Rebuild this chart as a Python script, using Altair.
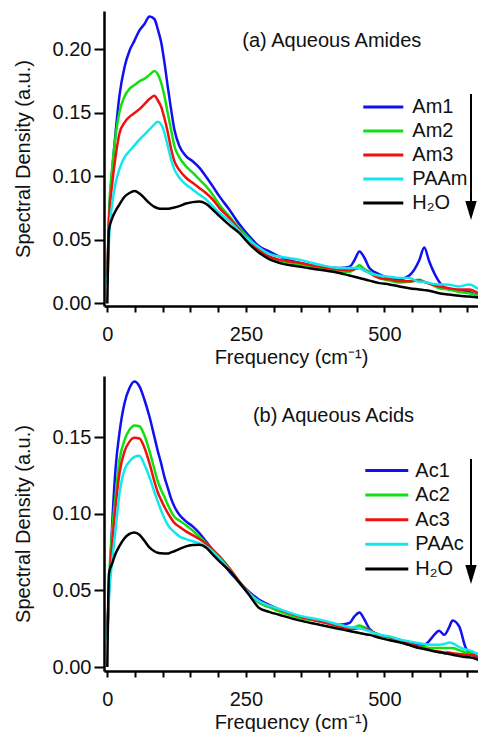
import altair as alt
import pandas as pd

# ---------------- data ----------------
freq_a = [0, 3, 9, 15, 22, 31, 40, 49, 58, 67, 76, 85, 91, 97, 103, 109, 115, 121, 130, 142,
          154, 166, 178, 190, 202, 220, 238, 256, 274, 292, 310, 346, 383, 419, 437, 446, 455,
          464, 473, 491, 509, 527, 545, 563, 572, 581, 599, 617, 635, 653, 671, 686]

am1 = [0.020, 0.065, 0.105, 0.135, 0.164, 0.186, 0.199, 0.207, 0.215, 0.220,
       0.226, 0.224, 0.216, 0.206, 0.190, 0.171, 0.153, 0.137, 0.124, 0.116,
       0.112, 0.107, 0.100, 0.0924, 0.0845, 0.074, 0.0625, 0.053, 0.045, 0.041,
       0.037, 0.032, 0.029, 0.028, 0.029, 0.034, 0.041, 0.036, 0.028, 0.023,
       0.020, 0.019, 0.022, 0.034, 0.044, 0.033, 0.017, 0.011, 0.0105, 0.009,
       0.006, 0.003]
am2 = [0.020, 0.070, 0.108, 0.132, 0.151, 0.163, 0.169, 0.172, 0.175, 0.177,
       0.180, 0.183, 0.1806, 0.174, 0.1635, 0.150, 0.137, 0.124, 0.115, 0.108,
       0.103, 0.0977, 0.0924, 0.0858, 0.078, 0.0687, 0.0595, 0.051, 0.042, 0.037,
       0.033, 0.0305, 0.028, 0.025, 0.025, 0.027, 0.030, 0.027, 0.025, 0.020,
       0.018, 0.0165, 0.017, 0.0187, 0.017, 0.016, 0.012, 0.011, 0.009, 0.008,
       0.006, 0.003]
am3 = [0.020, 0.065, 0.095, 0.116, 0.134, 0.1424, 0.147, 0.150, 0.153, 0.157,
       0.161, 0.1635, 0.160, 0.155, 0.146, 0.135, 0.122, 0.112, 0.105, 0.099,
       0.095, 0.091, 0.087, 0.082, 0.0753, 0.0674, 0.058, 0.050, 0.042, 0.037,
       0.0345, 0.032, 0.029, 0.0266, 0.026, 0.027, 0.028, 0.026, 0.024, 0.020,
       0.019, 0.0174, 0.0175, 0.018, 0.017, 0.0155, 0.0134, 0.012, 0.011, 0.011,
       0.008, 0.0055]
paam = [0.015, 0.050, 0.079, 0.095, 0.106, 0.115, 0.120, 0.1245, 0.129, 0.133,
        0.137, 0.141, 0.143, 0.141, 0.1345, 0.124, 0.1135, 0.1056, 0.099, 0.0937,
        0.0898, 0.0858, 0.082, 0.0766, 0.0714, 0.065, 0.057, 0.050, 0.044, 0.039,
        0.037, 0.0345, 0.0305, 0.028, 0.028, 0.028, 0.028, 0.026, 0.024, 0.022,
        0.021, 0.020, 0.020, 0.017, 0.017, 0.016, 0.015, 0.0147, 0.0134, 0.015,
        0.011, 0.0055]
h2o_a = [0.000, 0.058, 0.0674, 0.073, 0.078, 0.084, 0.087, 0.0885, 0.0866, 0.083,
         0.079, 0.076, 0.075, 0.0745, 0.0745, 0.0745, 0.075, 0.0755, 0.0766, 0.0787,
         0.0798, 0.0803, 0.0785, 0.074, 0.069, 0.0619, 0.0556, 0.047, 0.040, 0.035,
         0.032, 0.029, 0.0266, 0.024, 0.022, 0.021, 0.020, 0.019, 0.018, 0.016,
         0.015, 0.0134, 0.012, 0.011, 0.0105, 0.010, 0.008, 0.007, 0.006, 0.0055,
         0.0045, 0.003]

freq_b = [0, 3, 9, 15, 22, 31, 40, 49, 58, 67, 76, 85, 91, 97, 103, 109, 115, 121, 130, 142,
          154, 166, 178, 190, 202, 220, 238, 256, 274, 292, 310, 346, 383, 419, 437, 446, 455,
          464, 473, 491, 509, 527, 545, 563, 572, 581, 590, 599, 608, 617, 623, 635, 647, 659,
          671, 686]

ac1 = [0.022, 0.050, 0.095, 0.130, 0.153, 0.172, 0.182, 0.1862, 0.183, 0.1743,
       0.1634, 0.150, 0.141, 0.133, 0.124, 0.117, 0.110, 0.1047, 0.0993, 0.095,
       0.0917, 0.0874, 0.082, 0.0765, 0.071, 0.0624, 0.0553, 0.049, 0.0439, 0.0406,
       0.0374, 0.033, 0.0298, 0.0276, 0.0287, 0.033, 0.0356, 0.031, 0.025, 0.021,
       0.0195, 0.0178, 0.016, 0.0146, 0.0146, 0.017, 0.021, 0.0237, 0.021, 0.026,
       0.0304, 0.0265, 0.0124, 0.008, 0.006, 0.0026]
ac2 = [0.020, 0.055, 0.090, 0.112, 0.135, 0.148, 0.1547, 0.1575, 0.157, 0.151,
       0.141, 0.129, 0.121, 0.1156, 0.111, 0.106, 0.1015, 0.098, 0.0955, 0.0925,
       0.089, 0.085, 0.081, 0.0765, 0.0725, 0.0645, 0.0558, 0.048, 0.0417, 0.039,
       0.0363, 0.032, 0.0298, 0.0265, 0.0254, 0.026, 0.027, 0.026, 0.024, 0.021,
       0.019, 0.017, 0.0146, 0.0135, 0.013, 0.0124, 0.0124, 0.0124, 0.0124, 0.0124,
       0.0124, 0.011, 0.0095, 0.009, 0.007, 0.0048]
ac3 = [0.020, 0.050, 0.082, 0.105, 0.1265, 0.1406, 0.147, 0.1495, 0.149, 0.143,
       0.133, 0.121, 0.114, 0.109, 0.1045, 0.1005, 0.097, 0.094, 0.0915, 0.0885,
       0.086, 0.0835, 0.0805, 0.0765, 0.072, 0.0645, 0.0558, 0.048, 0.0428, 0.040,
       0.0374, 0.033, 0.0298, 0.0265, 0.0248, 0.025, 0.0254, 0.025, 0.024, 0.0205,
       0.0196, 0.0175, 0.0152, 0.013, 0.012, 0.0112, 0.0105, 0.0102, 0.0095, 0.0095,
       0.009, 0.0085, 0.008, 0.008, 0.006, 0.0037]
paac = [0.018, 0.045, 0.070, 0.090, 0.1134, 0.1286, 0.134, 0.137, 0.1378, 0.132,
        0.124, 0.114, 0.108, 0.102, 0.097, 0.0928, 0.090, 0.088, 0.0852, 0.0834,
        0.082, 0.0808, 0.0787, 0.0754, 0.071, 0.0635, 0.0548, 0.048, 0.0428, 0.040,
        0.0378, 0.0335, 0.0309, 0.0276, 0.026, 0.0257, 0.0254, 0.0245, 0.0233, 0.021,
        0.020, 0.018, 0.0167, 0.0155, 0.015, 0.0146, 0.0146, 0.0146, 0.015, 0.016,
        0.0155, 0.013, 0.0115, 0.0102, 0.008, 0.0059]
h2o_b = [0.000, 0.061, 0.0678, 0.074, 0.079, 0.084, 0.0868, 0.0878, 0.0863, 0.0823,
         0.078, 0.0755, 0.0745, 0.0742, 0.074, 0.074, 0.0748, 0.0755, 0.0769, 0.0787,
         0.0795, 0.0797, 0.078, 0.0735, 0.069, 0.063, 0.0552, 0.047, 0.0385, 0.036,
         0.0341, 0.0304, 0.0276, 0.0248, 0.0235, 0.0228, 0.0222, 0.0215, 0.021, 0.019,
         0.0175, 0.0161, 0.0143, 0.0124, 0.0118, 0.011, 0.0102, 0.0096, 0.009, 0.0085,
         0.008, 0.0072, 0.0065, 0.006, 0.0045, 0.003]

names_a = ["Am1", "Am2", "Am3", "PAAm", "H\u2082O"]
names_b = ["Ac1", "Ac2", "Ac3", "PAAc", "H\u2082O"]
colors = ["#1010F0", "#10E010", "#F01010", "#10E8EE", "#000000"]
x_ticks = list(range(0, 651, 50))
y_ticks_a = [0.0, 0.05, 0.10, 0.15, 0.20]
y_ticks_b = [0.0, 0.05, 0.10, 0.15]

FONT = "Liberation Sans"
TXT = "#111111"
W, H = 374, 295
X_DOM = [-6, 669]


def panel(freq, series, names, y_dom, y_ticks, label, label_xy, leg_y0, leg_dy, leg_x, arrow):
    rows = []
    for name, vals in zip(names, series):
        for f, v in zip(freq, vals):
            rows.append({"freq": f, "value": v, "series": name})
    df = pd.DataFrame(rows)

    lines = alt.Chart(df).mark_line(strokeWidth=2.5, interpolate="monotone", clip=True).encode(
        x=alt.X("freq:Q",
                scale=alt.Scale(domain=X_DOM, nice=False, zero=False),
                axis=alt.Axis(values=x_ticks, format="d",
                              labelExpr="datum.value % 250 === 0 ? datum.label : ''",
                              tickSize=6, tickWidth=2, tickColor="black",
                              domainColor="black", domainWidth=2.5,
                              labelFont=FONT, labelFontSize=20, labelColor=TXT,
                              labelPadding=12, labelFlush=False, labelOverlap=False,
                              grid=False, title="Frequency (cm\u207b\u00b9)",
                              titleFont=FONT, titleFontSize=20, titleFontWeight="normal",
                              titleColor=TXT, titlePadding=3)),
        y=alt.Y("value:Q",
                scale=alt.Scale(domain=y_dom, nice=False, zero=False),
                axis=alt.Axis(values=y_ticks, format=".2f",
                              tickSize=10, tickWidth=2, tickColor="black",
                              domainColor="black", domainWidth=2.5,
                              labelFont=FONT, labelFontSize=20, labelColor=TXT,
                              labelPadding=3, labelFlush=False, labelOverlap=False,
                              grid=False, title="Spectral Density (a.u.)",
                              titleFont=FONT, titleFontSize=20, titleFontWeight="normal",
                              titleColor=TXT, titlePadding=19)),
        color=alt.Color("series:N", scale=alt.Scale(domain=names, range=colors), legend=None),
    )

    dummy = pd.DataFrame({"d": [0]})
    layers = [lines]
    # panel label
    layers.append(alt.Chart(dummy).mark_text(text=label, align="center", baseline="alphabetic",
                                             font=FONT, fontSize=20, color=TXT)
                  .encode(x=alt.value(label_xy[0]), y=alt.value(label_xy[1])))
    # legend
    for i, (name, col) in enumerate(zip(names, colors)):
        yy = leg_y0 + i * leg_dy
        layers.append(alt.Chart(dummy).mark_rule(color=col, strokeWidth=3)
                      .encode(x=alt.value(leg_x[0]), x2=alt.value(leg_x[1]), y=alt.value(yy)))
        layers.append(alt.Chart(dummy).mark_text(text=name, align="left", baseline="middle",
                                                 font=FONT, fontSize=20, color=TXT)
                      .encode(x=alt.value(leg_x[2]), y=alt.value(yy)))
    # arrow
    ax, ay0, ay1, ahc = arrow
    layers.append(alt.Chart(dummy).mark_rule(color="black", strokeWidth=2)
                  .encode(x=alt.value(ax), y=alt.value(ay0), y2=alt.value(ay1)))
    layers.append(alt.Chart(dummy).mark_point(shape="M-0.6,-1L0.6,-1L0,1Z", filled=True,
                                              color="black", opacity=1, size=361, strokeWidth=0)
                  .encode(x=alt.value(ax), y=alt.value(ahc)))
    return alt.layer(*layers).properties(width=W, height=H)


top = panel(freq_a, [am1, am2, am3, paam, h2o_a], names_a, [-0.002, 0.2303], y_ticks_a,
            "(a) Aqueous Amides", (227.8, 36), 96, 24, (259.3, 299.3, 308.3),
            (367, 83, 195, 199.5))
bottom = panel(freq_b, [ac1, ac2, ac3, paac, h2o_b], names_b, [-0.0026, 0.1898], y_ticks_b,
               "(b) Aqueous Acids", (229.5, 45.8), 94.5, 24.6, (261.3, 304.3, 311.3),
               (367, 83, 192, 198.5))

chart = alt.vconcat(top, bottom, spacing=9).resolve_scale(
    color="independent", x="independent", y="independent"
).configure_view(stroke=None).properties(
    padding={"left": 5, "top": 3, "right": 0, "bottom": 0}, background="white"
)

chart.save("out.html", embed_options={"renderer": "svg", "actions": False})
